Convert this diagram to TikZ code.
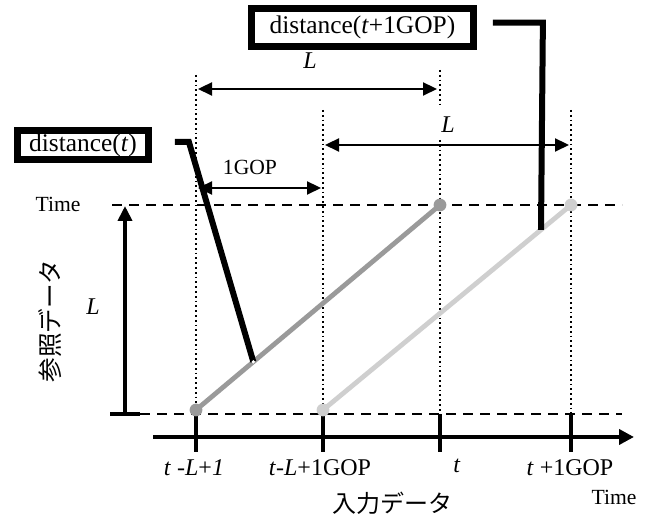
\documentclass[tikz,border=0pt]{standalone}
\usepackage{fontspec}
\setmainfont{Liberation Serif}
\newfontfamily\jpfont{Noto Sans CJK JP}
\usetikzlibrary{arrows.meta, positioning, calc}
\definecolor{inkdark}{HTML}{9A9A9A}
\definecolor{inklight}{HTML}{CFCFCF}
\tikzset{
  span/.style={{Triangle[length=7pt,width=6.5pt]}-{Triangle[length=7pt,width=6.5pt]},
    line width=1.1pt},
  guide/.style={line width=1pt, dash pattern=on 0.9pt off 1.5pt},
  level/.style={line width=1.4pt, dash pattern=on 5pt off 3.5pt},
  callout/.style={draw, line width=3.4pt, inner sep=0pt,
    font=\fontsize{12.7}{14}\selectfont},
  leader/.style={line width=3pt},
  track/.style={line width=2.4pt},
  ticklab/.style={font=\fontsize{12}{14}\selectfont},
}

\begin{document}
\begin{tikzpicture}[x=0.5pt, y=-0.5pt, font=\fontsize{10.8}{13}\selectfont]
  \useasboundingbox (0,0) rectangle (649,522);
  % grid points on the two levels and the axis
  \foreach \nm/\x in {p/196, q/323, r/440, s/571}{%
    \coordinate (\nm-hi) at (\x,205);
    \coordinate (\nm-lo) at (\x,414);
    \coordinate (\nm-ax) at (\x,437);
    \coordinate (\nm-tk) at (\x,452);}
  \coordinate (hiL) at (112,205);  \coordinate (hiR) at (622,205);
  \coordinate (loL) at (140,414);  \coordinate (loR) at (622,414);
  \draw[level] (hiL) -- (hiR);
  \draw[level] (loL) -- (loR);
  % dotted guides
  \coordinate (pg) at (196,75);   \coordinate (qg) at (323,110);
  \coordinate (rg1) at (440,70);  \coordinate (rg2) at (440,107);
  \coordinate (rg3) at (440,140); \coordinate (sg) at (571,110);
  \draw[guide] (pg) -- (p-ax);
  \draw[guide] (qg) -- (q-ax);
  \draw[guide] (rg1) -- (rg2);
  \draw[guide] (rg3) -- (r-ax);
  \draw[guide] (sg) -- (s-ax);
  % reference axis (vertical)
  \coordinate (vbar1) at (110,414); \coordinate (vbar2) at (140,414);
  \coordinate (vlo) at (125,414);   \coordinate (vhi) at (125,206);
  \draw[line width=2.2pt] (vbar1) -- (vbar2);
  \draw[line width=2.2pt, -{Triangle[length=7.5pt,width=7pt]}] (vlo) -- (vhi);
  \node (sideL) at (93,307) {\fontsize{12}{14}\selectfont\textit{L}};
  \node[rotate=90] (refdata) at (50,321)
    {\jpfont\fontsize{12.3}{14}\selectfont 参照データ};
  \node (timeV) at (58,204) {Time};
  % input axis
  \coordinate (axL) at (153,437); \coordinate (axR) at (634,437);
  \draw[line width=2.4pt, -{Triangle[length=7.5pt,width=7.5pt]}] (axL) -- (axR);
  \foreach \nm in {p,q,r,s}{%
    \draw[line width=2pt] (\nm-lo) -- (\nm-tk);}
  \node[ticklab] (labp) at (194,468) {\textit{t} -\textit{L}+\textit{1}};
  \node[ticklab] (labq) at (320,468) {\textit{t}-\textit{L}+1GOP};
  \node[ticklab] (labr) at (457,466) {\textit{t}};
  \node[ticklab] (labs) at (570,468) {\textit{t} +1GOP};
  \node (timeH) at (614,497) {Time};
  \node (indata) at (392,503)
    {\jpfont\fontsize{12}{14}\selectfont 入力データ};
  % spans
  \coordinate (sp1a) at (198,89);  \coordinate (sp1b) at (437,89);
  \coordinate (sp2a) at (325,145); \coordinate (sp2b) at (569,145);
  \coordinate (sp3a) at (198,188); \coordinate (sp3b) at (321,188);
  \draw[span] (sp1a) -- (sp1b);
  \draw[span] (sp2a) -- (sp2b);
  \draw[span] (sp3a) -- (sp3b);
  \node (topL) at (310,61) {\fontsize{12}{14}\selectfont\textit{L}};
  \node (midL) at (448,125) {\fontsize{12}{14}\selectfont\textit{L}};
  \node (gop) at (250,167) {1GOP};
  % the two reference windows
  \coordinate (trA) at (196,410); \coordinate (trB) at (323,410);
  \draw[track, inkdark] (trA) -- (r-hi);
  \draw[track, inklight] (trB) -- (s-hi);
  \fill[inkdark] (trA) circle (3.2pt);
  \fill[inkdark] (r-hi) circle (3.2pt);
  \fill[inklight] (trB) circle (3.2pt);
  \fill[inklight] (s-hi) circle (3.2pt);
  % callouts
  \node[callout, minimum width=65.5pt, minimum height=14.5pt] (distA)
    at (83,145) {distance(\textit{t})};
  \node[callout, minimum width=111pt, minimum height=19pt] (distB)
    at (362.5,27.5) {distance(\textit{t}+1GOP)};
  \coordinate (hitA) at ($(trA)!0.235!(r-hi)$);
  \coordinate (hitB) at ($(trB)!0.879!(s-hi)$);
  \draw[leader] ([shift={(11.5pt,1.5pt)}]distA.east) -- ++(7pt,0) -- (hitA);
  \draw[leader] ([shift={(8pt,2.4pt)}]distB.east) -- ++(25pt,0) -- (hitB);
  \fill[white] (hitA) circle (0.9pt);
\end{tikzpicture}
\end{document}
